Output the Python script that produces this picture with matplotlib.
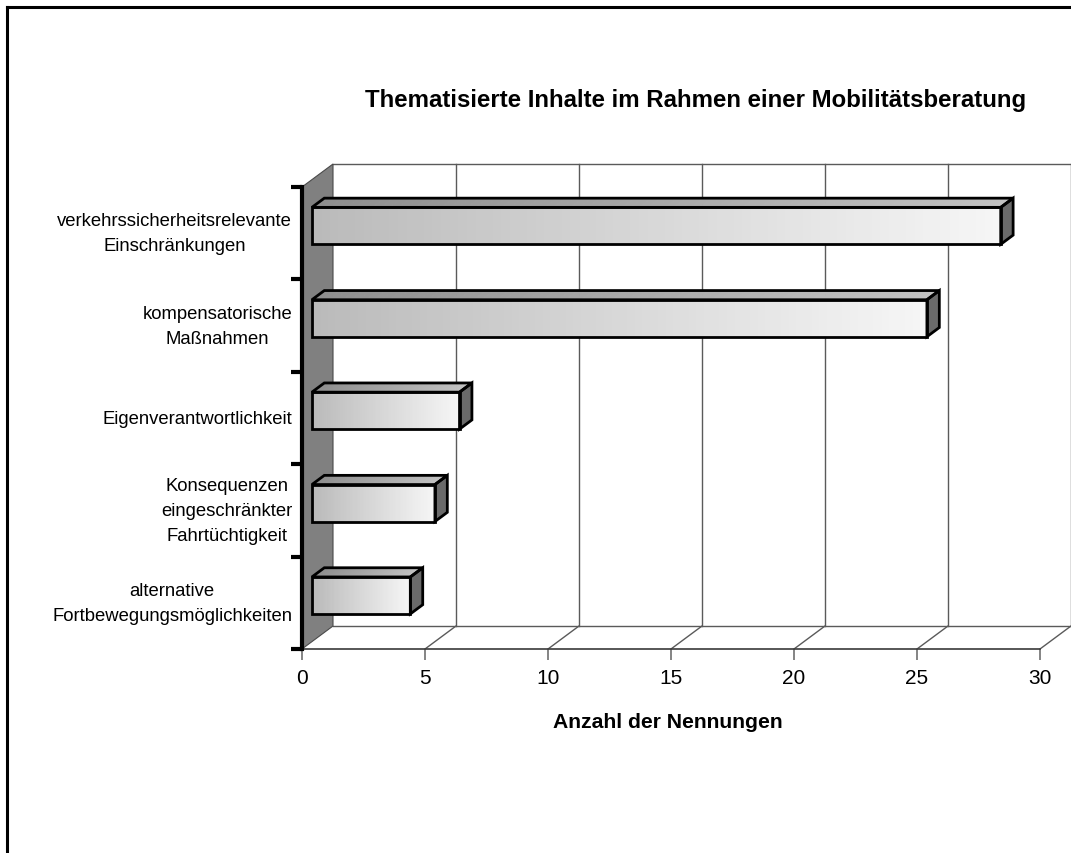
import numpy as np
import matplotlib
matplotlib.use("Agg")
import matplotlib.pyplot as plt
from matplotlib.collections import PolyCollection
from matplotlib.patches import Polygon
from matplotlib.lines import Line2D
from matplotlib.transforms import IdentityTransform
from matplotlib.colors import to_rgb

plt.rcParams['font.family'] = ['Liberation Sans', 'DejaVu Sans']

title = "Thematisierte Inhalte im Rahmen einer Mobilitätsberatung"
xlabel = "Anzahl der Nennungen"
categories = ["verkehrssicherheitsrelevante\nEinschränkungen",
              "kompensatorische\nMaßnahmen",
              "Eigenverantwortlichkeit",
              "Konsequenzen\neingeschränkter\nFahrtüchtigkeit",
              "alternative\nFortbewegungsmöglichkeiten"]
counts = [28, 25, 6, 5, 4]
xticks = [0, 5, 10, 15, 20, 25, 30]

# 3D look: depth of the box in pixels (right, up)
DEPTH = np.array([31.0, 23.0])
BAR_D0, BAR_D1 = 0.32, 0.72   # bar front / back as fraction of the depth
BAR_H = 0.4

fig = plt.figure(figsize=(10.71, 8.54), dpi=100)
ax = fig.add_axes([302 / 1071, 204 / 854, 738 / 1071, 462 / 854])
ax.set_xlim(0, xticks[-1])
ax.set_ylim(0, len(categories))
ax.set_facecolor('none')

n = len(categories)
xmax = xticks[-1]


def pt(v, y, d):
    # data point pushed back by depth fraction d, in display pixels
    return ax.transData.transform((v, y)) + d * DEPTH


def poly(pts, **kw):
    p = Polygon(np.array(pts), closed=True, transform=IdentityTransform(),
                clip_on=False, **kw)
    ax.add_artist(p)
    return p


def line(p0, p1, **kw):
    a = np.array([p0, p1])
    ax.add_artist(Line2D(a[:, 0], a[:, 1], transform=IdentityTransform(),
                         clip_on=False, **kw))


def gradient_face(a, b, c, d, c_start, c_end, steps=80, z=3):
    # slices along a->b (and d->c), colour going from c_start to c_end
    c_start, c_end = np.array(to_rgb(c_start)), np.array(to_rgb(c_end))
    ts = np.linspace(0, 1, steps + 1)
    verts, cols = [], []
    for t0, t1 in zip(ts[:-1], ts[1:]):
        p0 = a + t0 * (b - a)
        p1 = a + t1 * (b - a)
        q1 = d + t1 * (c - d)
        q0 = d + t0 * (c - d)
        verts.append([p0, p1, q1, q0])
        cols.append(c_start + (t0 + t1) / 2 * (c_end - c_start))
    pc = PolyCollection(verts, facecolors=cols, edgecolors=cols, linewidths=0.6,
                        transform=IdentityTransform(), clip_on=False, zorder=z)
    ax.add_collection(pc, autolim=False)


grid_col = '#5a5a5a'

# back wall and floor
poly([pt(0, 0, 1), pt(xmax, 0, 1), pt(xmax, n, 1), pt(0, n, 1)],
     facecolor='white', edgecolor='none', zorder=0.3)
poly([pt(0, 0, 0), pt(xmax, 0, 0), pt(xmax, 0, 1), pt(0, 0, 1)],
     facecolor='white', edgecolor='none', zorder=0.3)
for v in xticks[1:]:
    line(pt(v, 0, 1), pt(v, n, 1), color=grid_col, lw=1, zorder=0.6)
    line(pt(v, 0, 0), pt(v, 0, 1), color=grid_col, lw=1, zorder=0.6)
line(pt(0, n, 1), pt(xmax, n, 1), color=grid_col, lw=1, zorder=0.6)
line(pt(0, 0, 1), pt(xmax, 0, 1), color=grid_col, lw=1, zorder=0.6)

# side wall
poly([pt(0, 0, 0), pt(0, 0, 1), pt(0, n, 1), pt(0, n, 0)],
     facecolor='#808080', edgecolor='#4a4a4a', lw=0.8, zorder=0.7)

# bars
for i, v in enumerate(counts):
    yc = n - i - 0.5
    y0, y1 = yc - BAR_H / 2, yc + BAR_H / 2
    front = [pt(0, y0, BAR_D0), pt(v, y0, BAR_D0), pt(v, y1, BAR_D0), pt(0, y1, BAR_D0)]
    top = [pt(0, y1, BAR_D0), pt(v, y1, BAR_D0), pt(v, y1, BAR_D1), pt(0, y1, BAR_D1)]
    side = [pt(v, y0, BAR_D0), pt(v, y0, BAR_D1), pt(v, y1, BAR_D1), pt(v, y1, BAR_D0)]
    gradient_face(*top, '#8e8e8e', '#c2c2c2')
    gradient_face(*front, '#bababa', '#f6f6f6')
    poly(side, facecolor='#6a6a6a', edgecolor='none', zorder=3)
    for face in (top, side, front):
        poly(face, facecolor='none', edgecolor='black', lw=2.0,
             joinstyle='miter', zorder=4)

# axes
for s in ('top', 'right'):
    ax.spines[s].set_visible(False)
ax.spines['left'].set_color('black')
ax.spines['left'].set_linewidth(3)
ax.spines['left'].set_zorder(5)
ax.spines['bottom'].set_color('#3a3a3a')
ax.spines['bottom'].set_linewidth(1.2)

ax.set_xticks(xticks)
ax.tick_params(axis='x', direction='out', length=8, width=1.2, color='#707070',
               labelsize=15, pad=6)
ax.set_yticks(np.arange(n + 1))
ax.set_yticklabels([])
ax.tick_params(axis='y', which='major', direction='out', length=8, width=3,
               color='black')
ax.set_yticks([n - i - 0.5 for i in range(n)], categories, minor=True)
ax.tick_params(axis='y', which='minor', length=0, pad=7, labelsize=13.3)
for lab in ax.get_yticklabels(minor=True):
    lab.set_multialignment('center')
    lab.set_verticalalignment('center')
    lab.set_linespacing(1.6)

fig.text(696 / 1071, 1 - 101 / 854, title, ha='center', va='center',
         fontsize=17.3, fontweight='bold')
fig.text(668 / 1071, 1 - 722 / 854, xlabel, ha='center', va='center',
         fontsize=15.2, fontweight='bold')

# frame round the chart area
fig.add_artist(Line2D([7 / 1071, 7 / 1071], [0, 1 - 8 / 854],
                      transform=fig.transFigure, color='black', lw=2.2))
fig.add_artist(Line2D([7 / 1071, 1], [1 - 8 / 854, 1 - 8 / 854],
                      transform=fig.transFigure, color='black', lw=2.2))

fig.savefig('out.png', dpi=100)
